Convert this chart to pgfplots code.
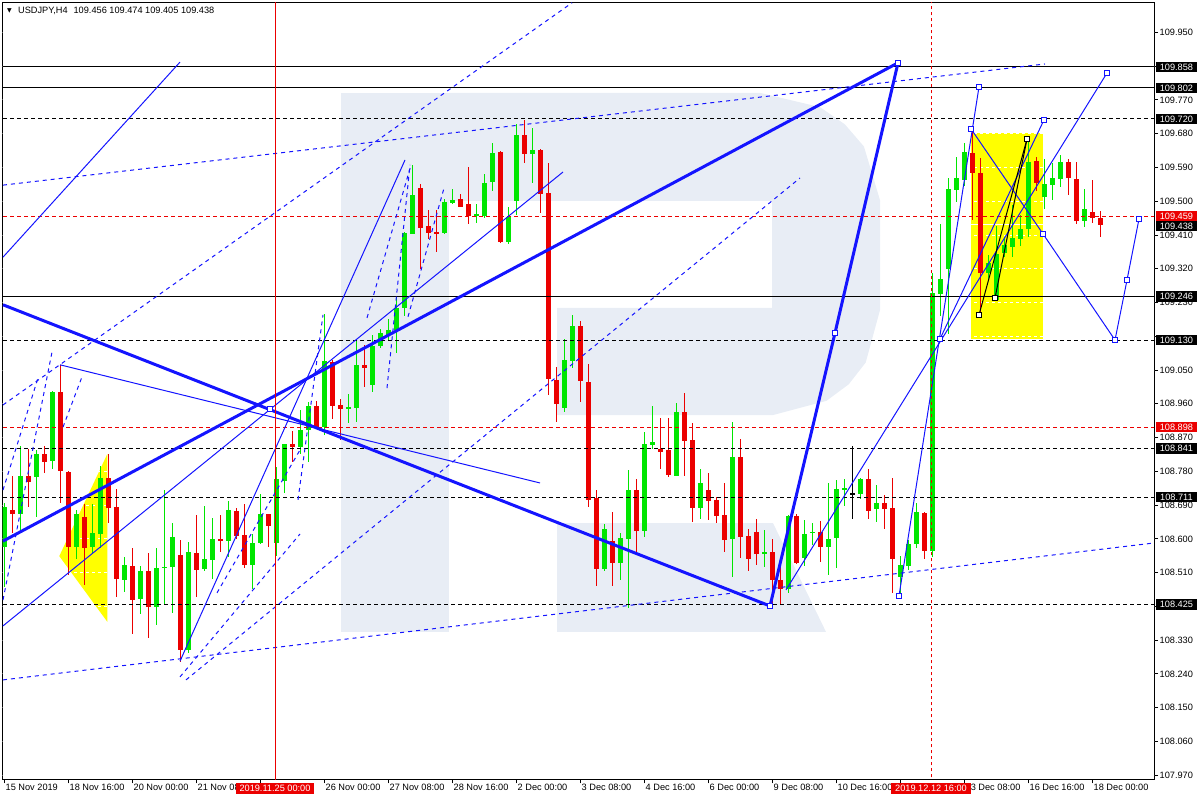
\documentclass[border=0pt]{standalone}
\usepackage{fontspec}
\setmainfont{Liberation Sans}
\newfontfamily\dejavu{DejaVu Sans}
\usepackage{pgfplots}
\usepackage{pgfplotstable}
\pgfplotsset{compat=1.18}

\definecolor{cgreen}{RGB}{0,230,0}
\definecolor{cred}{RGB}{235,0,0}
\definecolor{cblue}{RGB}{20,20,255}
\definecolor{wmark}{RGB}{232,237,245}
\definecolor{cyel}{RGB}{255,255,0}

% USDJPY H4 candles: index, open, high, low, close
\pgfplotstableread{
i o h l c
0 108.579 108.696 108.472 108.686
2 108.668 108.848 108.624 108.768
4 108.766 108.837 108.659 108.826
6 108.808 108.997 108.788 108.992
9 108.578 108.677 108.548 108.666
11 108.579 108.693 108.562 108.615
12 108.615 108.794 108.575 108.764
15 108.492 108.554 108.459 108.530
17 108.439 108.528 108.402 108.514
19 108.418 108.575 108.370 108.523
20 108.523 108.730 108.428 108.526
21 108.526 108.643 108.402 108.604
23 108.306 108.592 108.297 108.566
25 108.520 108.688 108.515 108.546
26 108.545 108.655 108.494 108.600
28 108.595 108.701 108.552 108.677
31 108.530 108.615 108.468 108.588
32 108.590 108.721 108.588 108.666
34 108.590 108.792 108.557 108.760
35 108.755 108.855 108.723 108.853
37 108.846 108.945 108.826 108.892
38 108.892 108.966 108.806 108.954
40 108.899 109.199 108.877 109.074
43 108.945 108.988 108.910 108.951
44 108.951 109.130 108.912 109.065
46 109.010 109.144 108.992 109.115
47 109.115 109.161 109.108 109.148
48 109.146 109.188 109.130 109.157
49 109.157 109.246 109.097 109.217
50 109.217 109.418 109.195 109.416
51 109.415 109.599 109.413 109.517
55 109.415 109.505 109.413 109.497
56 109.497 109.535 109.495 109.506
59 109.462 109.495 109.444 109.465
60 109.463 109.573 109.455 109.551
61 109.550 109.657 109.528 109.628
63 109.392 109.486 109.386 109.459
64 109.502 109.706 109.463 109.677
66 109.628 109.695 109.550 109.637
70 108.951 109.135 108.939 109.077
71 109.074 109.197 109.056 109.167
75 108.519 108.640 108.515 108.626
77 108.536 108.615 108.492 108.602
78 108.600 108.784 108.418 108.732
80 108.622 108.885 108.606 108.855
81 108.851 108.954 108.839 108.860
84 108.770 108.963 108.768 108.939
87 108.683 108.786 108.653 108.749
91 108.599 108.912 108.499 108.818
95 108.560 108.624 108.526 108.565
98 108.466 108.663 108.455 108.661
100 108.551 108.653 108.528 108.615
101 108.615 108.643 108.584 108.619
103 108.579 108.751 108.506 108.602
104 108.602 108.757 108.522 108.733
105 108.732 108.760 108.688 108.735
107 108.721 108.762 108.706 108.760
109 108.679 108.744 108.646 108.695
112 108.499 108.554 108.446 108.530
113 108.528 108.597 108.517 108.588
114 108.588 108.695 108.575 108.671
116 108.568 109.308 108.551 109.256
117 109.255 109.441 109.194 109.293
118 109.319 109.564 109.148 109.532
119 109.532 109.619 109.499 109.562
120 109.557 109.655 109.543 109.632
123 109.310 109.357 109.290 109.336
124 109.239 109.434 109.237 109.361
125 109.361 109.406 109.352 109.383
126 109.379 109.490 109.352 109.403
127 109.401 109.463 109.382 109.426
128 109.426 109.665 109.407 109.606
130 109.512 109.615 109.481 109.546
131 109.543 109.601 109.503 109.561
132 109.561 109.623 109.537 109.606
135 109.448 109.532 109.432 109.481
}\up

\pgfplotstableread{
i o h l c
1 108.677 108.768 108.615 108.668
3 108.768 108.841 108.686 108.752
5 108.826 108.848 108.776 108.806
7 108.992 109.064 108.695 108.782
8 108.780 108.782 108.504 108.578
10 108.661 108.693 108.477 108.578
13 108.764 108.828 108.642 108.684
14 108.684 108.732 108.444 108.492
16 108.528 108.575 108.348 108.439
18 108.514 108.562 108.338 108.418
22 108.557 108.597 108.273 108.304
24 108.564 108.664 108.446 108.519
27 108.600 108.664 108.566 108.595
29 108.677 108.681 108.599 108.608
30 108.610 108.693 108.522 108.530
33 108.666 108.668 108.579 108.635
36 108.853 108.888 108.806 108.846
39 108.954 108.970 108.897 108.899
41 109.074 109.076 108.921 108.955
42 108.957 108.975 108.865 108.945
45 109.065 109.117 109.006 109.056
52 109.537 109.546 109.321 109.430
53 109.434 109.479 109.401 109.415
54 109.418 109.477 109.364 109.414
57 109.506 109.521 109.484 109.486
58 109.495 109.591 109.441 109.462
62 109.630 109.635 109.390 109.392
65 109.677 109.717 109.603 109.628
67 109.637 109.641 109.468 109.521
68 109.521 109.603 108.984 109.025
69 109.025 109.059 108.912 108.961
72 109.167 109.182 108.966 109.022
73 109.021 109.066 108.684 108.706
74 108.710 108.732 108.475 108.520
76 108.594 108.672 108.475 108.536
79 108.732 108.759 108.564 108.622
82 108.841 108.924 108.787 108.832
83 108.837 108.923 108.766 108.770
85 108.939 108.990 108.768 108.862
86 108.864 108.908 108.646 108.683
88 108.730 108.775 108.652 108.702
89 108.705 108.712 108.643 108.662
90 108.664 108.750 108.566 108.599
92 108.818 108.866 108.550 108.606
93 108.608 108.626 108.515 108.547
94 108.621 108.653 108.532 108.562
96 108.565 108.600 108.425 108.492
97 108.490 108.532 108.426 108.466
99 108.661 108.668 108.534 108.536
102 108.619 108.648 108.539 108.579
108 108.760 108.788 108.655 108.677
110 108.695 108.717 108.628 108.679
111 108.684 108.763 108.455 108.546
115 108.671 108.673 108.548 108.568
121 109.630 109.695 109.450 109.576
122 109.576 109.615 109.197 109.310
129 109.606 109.619 109.530 109.550
133 109.606 109.612 109.517 109.564
134 109.561 109.606 109.441 109.448
136 109.472 109.557 109.441 109.455
137 109.456 109.474 109.405 109.438
}\down

\pgfplotstableread{
i o h l c
106 108.720 108.848 108.654 108.722
}\doji

\pgfplotsset{
  wick/.style={draw=none, mark=none, forget plot,
    error bars/.cd, y dir=both, y explicit, error mark=none,
    error bar style={draw=#1, line width=1pt}},
  body/.style={draw=none, mark=none, forget plot,
    error bars/.cd, y dir=both, y explicit, error mark=none,
    error bar style={draw=#1, line width=5pt}},
  lvl/.style={line width=1pt, forget plot},
  dsh/.style={dash pattern=on 4pt off 3pt},
  bdsh/.style={cblue, line width=1pt, dash pattern=on 4pt off 4pt, forget plot},
  thin/.style={cblue, line width=1pt, forget plot},
  sq/.style={only marks, mark=square*, mark size=2.5pt,
    mark options={fill=white, draw=#1, line width=1pt}, forget plot},
}

\begin{document}
\begin{tikzpicture}[font=\fontsize{9.2}{11}\selectfont]
\begin{axis}[
  at={(2.5pt,20.5pt)}, anchor=south west,
  scale only axis, width=1151.5pt, height=777pt,
  xmin=-0.1875, xmax=143.75, ymin=107.9585, ymax=110.0299,
  axis line style={black, line width=1pt},
  tick align=outside, major tick length=4pt,
  tick style={black, line width=1pt},
  xtick pos=left, ytick pos=right, yticklabel pos=right,
  /pgf/number format/assume math mode=true,
  xtick={0,8,16,24,32,40,48,56,64,72,80,88,96,104,112,120,128,136},
  xticklabels={{15 Nov 2019},{18 Nov 16:00},{20 Nov 00:00},{21 Nov 08:00},{},{26 Nov 00:00},{27 Nov 08:00},{28 Nov 16:00},{2 Dec 00:00},{3 Dec 08:00},{4 Dec 16:00},{6 Dec 00:00},{9 Dec 08:00},{10 Dec 16:00},{},{13 Dec 08:00},{16 Dec 16:00},{18 Dec 00:00}},
  xticklabel style={anchor=north west, inner xsep=1.5pt, inner ysep=0pt, text height=6.6pt, text depth=0pt},
  ytick={107.97,108.06,108.15,108.24,108.33,108.42,108.51,108.60,108.69,108.78,108.87,108.96,109.05,109.14,109.23,109.32,109.41,109.50,109.59,109.68,109.77,109.86,109.95},
  yticklabels={107.970,108.060,108.150,108.240,108.330,{},108.510,108.600,108.690,108.780,108.870,108.960,109.050,{},109.230,109.320,109.410,109.500,109.590,109.680,109.770,{},109.950},
  yticklabel style={anchor=west, inner xsep=1.5pt},
]
% yellow zones
\addplot[fill=cyel, draw=none, forget plot] coordinates {(120.875,109.132) (129.84,109.132) (129.84,109.681) (120.875,109.681)} -- cycle;
\addplot[fill=cyel, draw=none, forget plot] coordinates {(6.91,108.554) (12.91,108.826) (12.91,108.379)} -- cycle;
% white grid, seen only on the yellow zones
\pgfplotsinvokeforeach{107.97,108.06,108.15,108.24,108.33,108.42,108.51,108.60,108.69,108.78,108.87,108.96,109.05,109.14,109.23,109.32,109.41,109.50,109.59,109.68,109.77,109.86,109.95}{
  \addplot[white, line width=1pt, dash pattern=on 3pt off 3pt, forget plot] coordinates {(-1,#1) (145,#1)};
}
\addplot[white, line width=1pt, forget plot] coordinates {(120.875,109.438) (129.84,109.438)};
% watermark
\addplot[fill=wmark, draw=none, forget plot] coordinates {(42.125,108.352) (55.625,108.352) (55.625,109.789) (42.125,109.789)} -- cycle;
\addplot[fill=wmark, draw=none, forget plot] coordinates {(55.625,109.789) (94.5,109.789) (102,109.751) (105.11,109.705) (107.49,109.646) (109.5,109.503) (109.5,109.210) (107.71,109.070) (105.59,109.012) (102.81,108.968) (96.125,108.930) (69.125,108.930) (69.125,109.216) (96,109.216) (96,109.501) (55.625,109.501)} -- cycle;
\addplot[fill=wmark, draw=none, forget plot] coordinates {(69.125,108.642) (96.125,108.642) (102.75,108.352) (69.125,108.352)} -- cycle;

% candles
\addplot[wick=cgreen] table[x=i, y expr={(\thisrow{h}+\thisrow{l})/2}, y error expr={(\thisrow{h}-\thisrow{l})/2}] {\up};
\addplot[body=cgreen] table[x=i, y expr={(\thisrow{o}+\thisrow{c})/2}, y error expr={abs(\thisrow{c}-\thisrow{o})/2}] {\up};
\addplot[wick=cred] table[x=i, y expr={(\thisrow{h}+\thisrow{l})/2}, y error expr={(\thisrow{h}-\thisrow{l})/2}] {\down};
\addplot[body=cred] table[x=i, y expr={(\thisrow{o}+\thisrow{c})/2}, y error expr={abs(\thisrow{c}-\thisrow{o})/2}] {\down};
\addplot[wick=black] table[x=i, y expr={(\thisrow{h}+\thisrow{l})/2}, y error expr={(\thisrow{h}-\thisrow{l})/2}] {\doji};
\addplot[body=black] table[x=i, y expr={(\thisrow{o}+\thisrow{c})/2}, y error expr={abs(\thisrow{c}-\thisrow{o})/2}] {\doji};

% levels
\addplot[lvl, black] coordinates {(-1,109.858) (145,109.858)};
\addplot[lvl, black] coordinates {(-1,109.802) (145,109.802)};
\addplot[lvl, black, dsh] coordinates {(-1,109.720) (145,109.720)};
\addplot[lvl, black] coordinates {(-1,109.246) (145,109.246)};
\addplot[lvl, black, dsh] coordinates {(-1,109.130) (145,109.130)};
\addplot[lvl, black, dsh] coordinates {(-1,108.841) (145,108.841)};
\addplot[lvl, black, dsh] coordinates {(-1,108.711) (145,108.711)};
\addplot[lvl, black, dsh] coordinates {(-1,108.425) (145,108.425)};
\addplot[lvl, cred, dsh] coordinates {(-1,108.898) (145,108.898)};
\addplot[lvl, cred, dsh] coordinates {(-1,109.459) (145,109.459)};

% dashed channels
\addplot[bdsh] coordinates {(-0.125,109.543) (130.125,109.866)};
\addplot[bdsh] coordinates {(-0.125,108.224) (143.75,108.589)};
\addplot[bdsh] coordinates {(-0.125,108.957) (71,110.029)};
\addplot[bdsh] coordinates {(22.75,108.224) (99.5,109.562)};
\addplot[bdsh] coordinates {(-0.125,108.437) (6,109.098)};
\addplot[bdsh] coordinates {(-0.125,108.730) (4.25,109.029)};
\addplot[bdsh] coordinates {(7.375,108.898) (9.75,109.032)};
\addplot[bdsh] coordinates {(22,108.232) (37,108.613)};
\addplot[bdsh] coordinates {(36.75,108.704) (39.875,109.197)};
\addplot[bdsh] coordinates {(47.875,109.002) (50.75,109.597)};
\addplot[bdsh] coordinates {(26.625,108.456) (37,108.837)};
\addplot[bdsh] coordinates {(45.375,109.189) (50.875,109.597)};
\addplot[bdsh] coordinates {(50.5,109.192) (55,109.535)};

% thin trend lines
\addplot[thin] coordinates {(-0.125,109.351) (22,109.871)};
\addplot[thin] coordinates {(7,109.064) (67,108.749)};
\addplot[thin] coordinates {(-0.125,108.368) (69.875,109.578)};
\addplot[thin] coordinates {(22,108.274) (50.125,109.610)};
\addplot[thin] coordinates {(97.75,108.464) (137.875,109.842)};
\addplot[thin] coordinates {(111.875,108.448) (121.875,109.805)};
\addplot[thin] coordinates {(120.875,109.693) (129.875,109.413) (138.875,109.130) (140.375,109.290) (141.875,109.453)};
\addplot[thin] coordinates {(117,109.133) (130,109.717)};
\addplot[black, line width=1pt, forget plot] coordinates {(121.875,109.197) (127.875,109.666)};
\addplot[black, line width=1pt, forget plot] coordinates {(123.875,109.242) (127.875,109.666)};

% thick wave lines
\addplot[cblue, line width=3pt, forget plot] coordinates {(-0.125,108.594) (111.75,109.869)};
\addplot[cblue, line width=3pt, forget plot] coordinates {(-0.125,109.224) (95.75,108.421)};
\addplot[cblue, line width=3pt, forget plot] coordinates {(95.75,108.421) (103.875,109.149) (111.75,109.869)};

% anchor squares
\addplot[sq=cblue] coordinates {(33.25,108.946) (95.75,108.421) (103.875,109.149) (111.75,109.869) (137.875,109.842) (111.875,108.448) (117,109.133) (121.875,109.805) (120.875,109.693) (129.875,109.413) (138.875,109.130) (140.375,109.290) (141.875,109.453) (130,109.717)};
\addplot[sq=black] coordinates {(121.875,109.197) (123.875,109.242) (127.875,109.666)};

% vertical markers
\addplot[cred, line width=1pt, forget plot] coordinates {(33.875,107.5) (33.875,110.5)};
\addplot[cred, line width=1pt, dash pattern=on 3pt off 3pt, forget plot] coordinates {(115.875,107.5) (115.875,110.5)};
\end{axis}

% header
\node[inner sep=0pt] at (9.5pt,789.3pt) {\dejavu\fontsize{6}{6}\selectfont ▼};
\node[anchor=west, inner sep=0pt] at (18pt,789.3pt) {USDJPY,H4\hspace{6pt}109.456 109.474 109.405 109.438};

% price boxes on the right
\tikzset{pbox/.style={anchor=west, fill=#1, text=white, inner xsep=0pt, inner ysep=1.8pt,
  minimum width=41.5pt, text height=6.6pt, text depth=0pt}}
\node[pbox=black] at (1155.5pt,733.0pt) {109.858};
\node[pbox=black] at (1155.5pt,712.0pt) {109.802};
\node[pbox=black] at (1155.5pt,681.2pt) {109.720};
\node[pbox=cred]  at (1155.5pt,584.0pt) {109.459};
\node[pbox=black] at (1155.5pt,574.0pt) {109.438};
\node[pbox=black] at (1155.5pt,503.4pt) {109.246};
\node[pbox=black] at (1155.5pt,459.9pt) {109.130};
\node[pbox=cred]  at (1155.5pt,372.9pt) {108.898};
\node[pbox=black] at (1155.5pt,351.5pt) {108.841};
\node[pbox=black] at (1155.5pt,302.7pt) {108.711};
\node[pbox=black] at (1155.5pt,195.5pt) {108.425};

% date boxes at the bottom
\tikzset{dbox/.style={fill=cred, text=white, inner xsep=3.7pt, inner ysep=2.2pt, text height=6.6pt, text depth=0pt}}
\node[dbox] at (275pt,11.3pt) {2019.11.25 00:00};
\node[dbox] at (931pt,11.3pt) {2019.12.12 16:00};

\pgfresetboundingbox
\path[use as bounding box] (0,0) rectangle (1200pt,800pt);
\end{tikzpicture}
\end{document}
